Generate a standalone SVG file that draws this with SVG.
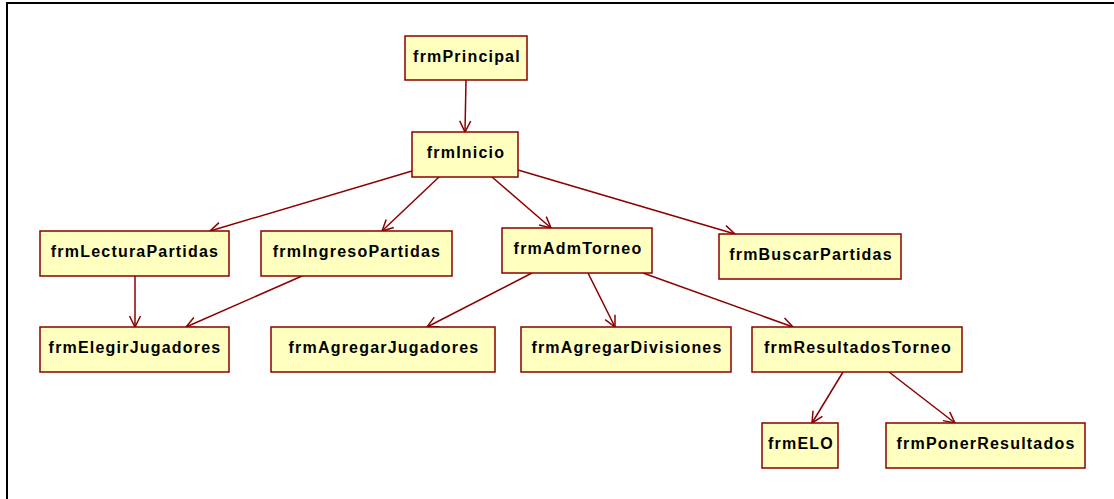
<svg xmlns="http://www.w3.org/2000/svg" width="1114" height="499" viewBox="0 0 1114 499">
<style>
.n rect{fill:#FFFFBF;stroke:#8B0000;stroke-width:1.5}
.n text{font-family:"Liberation Sans",Arial,sans-serif;font-weight:bold;font-size:16px;fill:#000;text-anchor:middle;letter-spacing:1.2px}
.c line{stroke:#8B0000;stroke-width:1.5;fill:none;marker-end:url(#a)}
</style>
<defs>
<marker id="a" viewBox="-12 -7 14 14" refX="0" refY="0" markerWidth="14" markerHeight="14" markerUnits="userSpaceOnUse" orient="auto">
<path d="M-11,-5.5 L0,0 L-11,5.5" fill="none" stroke="#8B0000" stroke-width="1.5"/>
</marker>
</defs>
<rect width="1114" height="499" fill="#fff"/>
<path d="M7,499 V3 H1114" fill="none" stroke="#000" stroke-width="2"/>
<g class="c" id="connectors">
<line x1="466" y1="80" x2="465" y2="132"/>
<line x1="412" y1="171" x2="210" y2="231"/>
<line x1="439" y1="177" x2="382" y2="231"/>
<line x1="492" y1="177" x2="551" y2="228"/>
<line x1="518" y1="170" x2="735" y2="234"/>
<line x1="135" y1="276" x2="135" y2="327"/>
<line x1="302" y1="276" x2="186" y2="327"/>
<line x1="532" y1="273" x2="427" y2="327"/>
<line x1="588" y1="273" x2="615" y2="327"/>
<line x1="643" y1="273" x2="793" y2="327"/>
<line x1="843" y1="372" x2="812" y2="423"/>
<line x1="889" y1="372" x2="955" y2="423"/>
</g>
<g class="n" id="frmPrincipal"><rect x="405" y="36" width="122" height="44"/><text x="467" y="62">frmPrincipal</text></g>
<g class="n" id="frmInicio"><rect x="412" y="132" width="106" height="45"/><text x="466" y="158">frmInicio</text></g>
<g class="n" id="frmLecturaPartidas"><rect x="40" y="231" width="189" height="45"/><text x="135" y="257">frmLecturaPartidas</text></g>
<g class="n" id="frmIngresoPartidas"><rect x="261" y="231" width="191" height="45"/><text x="357" y="257">frmIngresoPartidas</text></g>
<g class="n" id="frmAdmTorneo"><rect x="502" y="228" width="150" height="45"/><text x="578" y="254">frmAdmTorneo</text></g>
<g class="n" id="frmBuscarPartidas"><rect x="719" y="234" width="182" height="45"/><text x="811" y="260">frmBuscarPartidas</text></g>
<g class="n" id="frmElegirJugadores"><rect x="40" y="327" width="189" height="45"/><text x="135" y="353">frmElegirJugadores</text></g>
<g class="n" id="frmAgregarJugadores"><rect x="271" y="327" width="224" height="45"/><text x="384" y="353">frmAgregarJugadores</text></g>
<g class="n" id="frmAgregarDivisiones"><rect x="521" y="327" width="210" height="45"/><text x="627" y="353">frmAgregarDivisiones</text></g>
<g class="n" id="frmResultadosTorneo"><rect x="752" y="327" width="210" height="45"/><text x="858" y="353">frmResultadosTorneo</text></g>
<g class="n" id="frmELO"><rect x="762" y="423" width="76" height="45"/><text x="801" y="449">frmELO</text></g>
<g class="n" id="frmPonerResultados"><rect x="886" y="423" width="199" height="45"/><text x="986" y="449">frmPonerResultados</text></g>
</svg>
